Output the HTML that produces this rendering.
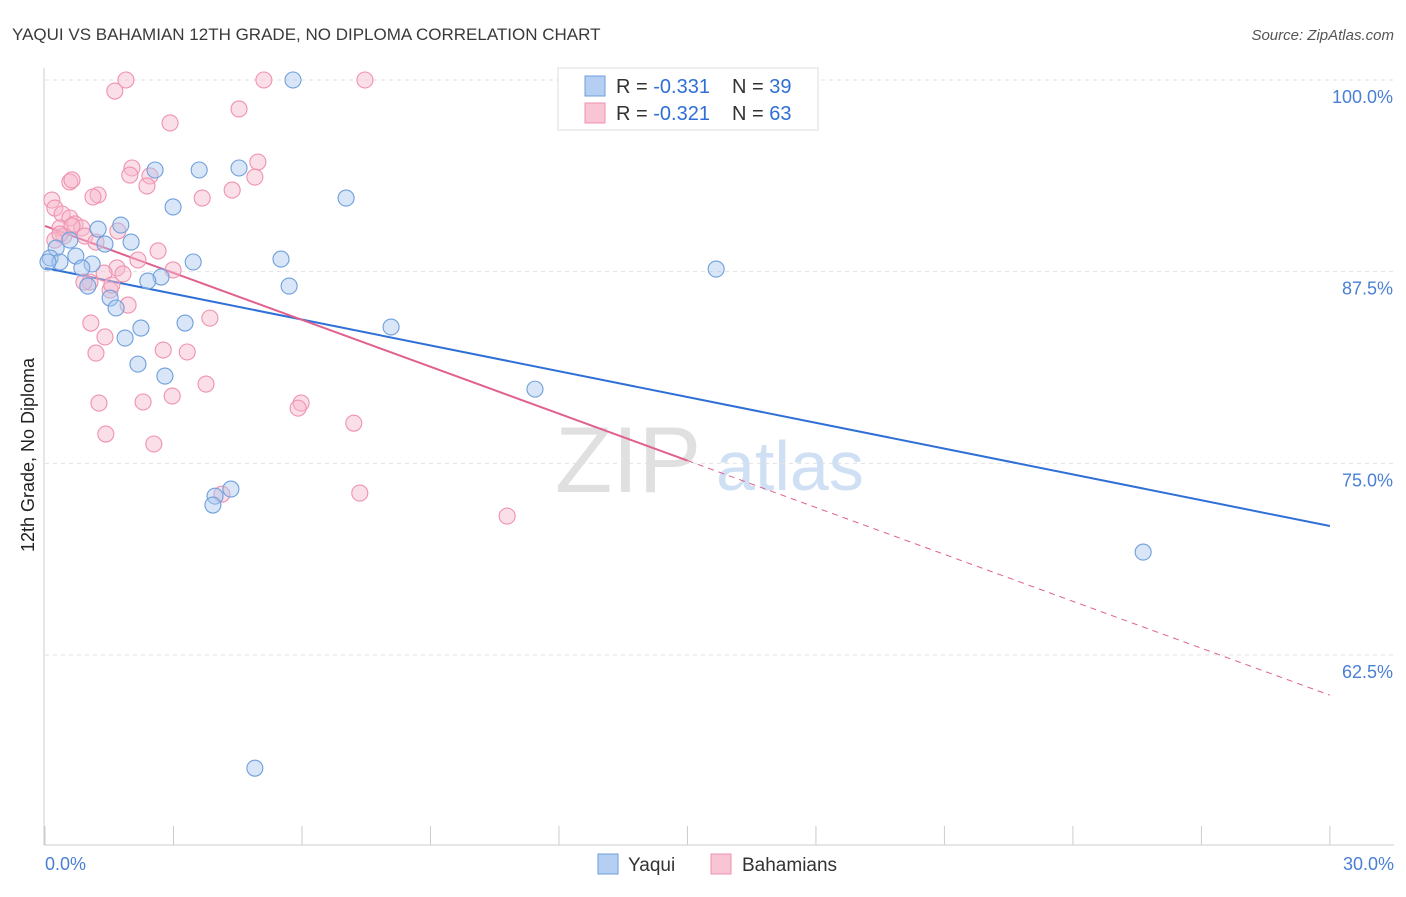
<!DOCTYPE html>
<html><head><meta charset="utf-8"><style>
body{margin:0;background:#fff;font-family:"Liberation Sans",sans-serif}
svg text{font-family:"Liberation Sans",sans-serif}
</style></head><body>
<svg id="chart" width="1406" height="892" viewBox="0 0 1406 892">
<text x="12" y="40" font-size="17" fill="#3a3a3a">YAQUI VS BAHAMIAN 12TH GRADE, NO DIPLOMA CORRELATION CHART</text>
<text x="1394" y="40" font-size="15" fill="#555" text-anchor="end" font-style="italic">Source: ZipAtlas.com</text>
<text transform="translate(34,455) rotate(-90)" font-size="18" fill="#222" text-anchor="middle">12th Grade, No Diploma</text>
<g><text x="555" y="492" font-size="94" fill="#e0e0e0" font-family="Liberation Serif">ZIP</text><text x="716" y="490" font-size="70" fill="#cfe0f5">atlas</text></g>
<g id="grid"></g><g id="axes"></g><g id="trends"></g><g id="points"></g>
<g>
<rect x="558" y="68" width="260" height="62" fill="#fff" stroke="#ddd"/>
<rect x="585" y="76" width="20" height="20" fill="#b4cff2" stroke="#6f9fdc"/>
<text x="616" y="93" font-size="20" fill="#333">R = <tspan fill="#2f6fd6">-0.331</tspan></text>
<text x="732" y="93" font-size="20" fill="#333">N = <tspan fill="#2f6fd6">39</tspan></text>
<rect x="585" y="103" width="20" height="20" fill="#f9c4d4" stroke="#ef92ae"/>
<text x="616" y="120" font-size="20" fill="#333">R = <tspan fill="#2f6fd6">-0.321</tspan></text>
<text x="732" y="120" font-size="20" fill="#333">N = <tspan fill="#2f6fd6">63</tspan></text>
</g>
<g>
<rect x="598" y="854" width="20" height="20" fill="#b4cff2" stroke="#6f9fdc"/>
<text x="628" y="871" font-size="19" fill="#333">Yaqui</text>
<rect x="711" y="854" width="20" height="20" fill="#f9c4d4" stroke="#ef92ae"/>
<text x="742" y="871" font-size="19" fill="#333">Bahamians</text>
</g>
</svg>
<script>
const yTicks=[100,87.5,75,62.5];
const yTickLabels=["100.0%","87.5%","75.0%","62.5%"];
const xTickLabels=["0.0%","30.0%"];
const yaquiX=[5.79,2.57,3.60,4.53,7.03,2.99,1.77,1.24,2.01,1.40,0.58,0.26,0.12,0.35,0.72,1.10,0.86,3.46,5.51,2.71,2.40,1.00,5.70,1.52,1.66,2.24,3.27,8.08,1.87,2.17,2.80,11.44,15.67,4.34,3.97,3.92,25.64,4.90,0.07];
const yaquiY=[100,94.13,94.13,94.26,92.30,91.72,90.54,90.28,89.43,89.30,89.56,89.04,88.39,88.13,88.52,88.00,87.74,88.13,88.32,87.15,86.89,86.56,86.56,85.78,85.13,83.82,84.15,83.89,83.17,81.47,80.69,79.84,87.67,73.32,72.86,72.28,69.21,55.12,88.13];
const bahX=[1.89,5.11,7.47,1.63,4.53,2.92,2.03,4.97,1.98,2.45,4.90,2.38,0.58,0.63,4.37,1.24,1.12,3.67,0.16,0.23,0.40,0.58,0.70,0.86,0.35,1.70,0.93,0.44,1.19,2.64,2.17,1.68,1.82,1.38,2.99,1.05,1.52,1.94,3.85,1.07,1.40,2.76,3.32,1.19,3.76,2.97,1.26,2.29,5.98,5.91,7.21,1.42,2.54,7.35,4.13,10.79,0.91,1.56,0.63,0.23,0.35];
const bahY=[100,100,100,99.28,98.11,97.20,94.26,94.65,93.80,93.74,93.67,93.09,93.35,93.48,92.82,92.50,92.37,92.30,92.17,91.65,91.26,91.00,90.61,90.35,90.35,90.15,89.82,89.82,89.43,88.85,88.26,87.74,87.35,87.41,87.61,86.82,86.30,85.32,84.47,84.15,83.24,82.39,82.26,82.19,80.17,79.39,78.93,79.00,78.93,78.60,77.62,76.91,76.26,73.06,72.99,71.56,86.82,86.63,90.48,89.56,89.95];
const yaquiTrend=[87.74,70.91];
const bahTrend=[90.48,59.88];
const NS="http://www.w3.org/2000/svg";
const X=v=>45+v*42.83, Y=v=>80+(100-v)*15.333;
function mk(p,t,a){const e=document.createElementNS(NS,t);for(const k in a)e.setAttribute(k,a[k]);p.appendChild(e);return e;}
const grid=document.getElementById('grid'),axes=document.getElementById('axes'),tr=document.getElementById('trends'),pts=document.getElementById('points');
yTicks.forEach((t,i)=>{
 const l=mk(grid,'line',{x1:45,x2:1394,y1:Y(t),y2:Y(t),stroke:'#e2e2e2','stroke-dasharray':'4,4'});
 
 
 const tx=mk(axes,'text',{x:1393,y:Y(t)+23,'font-size':18,fill:'#4a7fd4','text-anchor':'end'});
 tx.textContent=yTickLabels[i];
 
 
});
let a=mk(axes,'line',{x1:44,x2:44,y1:68,y2:845,stroke:'#ccc'});


a=mk(axes,'line',{x1:44,x2:1394,y1:845,y2:845,stroke:'#ccc'});


for(let i=0;i<=10;i++){const t=mk(axes,'line',{x1:X(i*3),x2:X(i*3),y1:826,y2:845,stroke:'#ccc'});
 
 }
[[0,'start',45],[30,'end',1394]].forEach((d,i)=>{const t=mk(axes,'text',{x:d[2],y:870,'font-size':18,fill:'#4a7fd4','text-anchor':d[1]});t.textContent=xTickLabels[i];
 
 });
function pts2(xs,ys,fill,stroke,name){xs.forEach((x,i)=>{const c=mk(pts,'circle',{cx:X(x),cy:Y(ys[i]),r:8,fill:fill,'fill-opacity':0.45,stroke:stroke,'stroke-width':1.1});
 
 });}
pts2(bahX,bahY,'#f7b9cc','#ef92ae','bahamian-point');
pts2(yaquiX,yaquiY,'#a9c8f0','#6f9fdc','yaqui-point');
let l=mk(tr,'line',{x1:X(0),y1:Y(yaquiTrend[0]),x2:X(30),y2:Y(yaquiTrend[1]),stroke:'#2f6fd6','stroke-width':2});


const bm=v=>bahTrend[0]+(bahTrend[1]-bahTrend[0])*v/30;
l=mk(tr,'line',{x1:X(0),y1:Y(bm(0)),x2:X(15),y2:Y(bm(15)),stroke:'#e0608f','stroke-width':2});


l=mk(tr,'line',{x1:X(15),y1:Y(bm(15)),x2:X(30),y2:Y(bm(30)),stroke:'#e0608f','stroke-width':1,'stroke-dasharray':'6,5'});


</script>
</body></html>
